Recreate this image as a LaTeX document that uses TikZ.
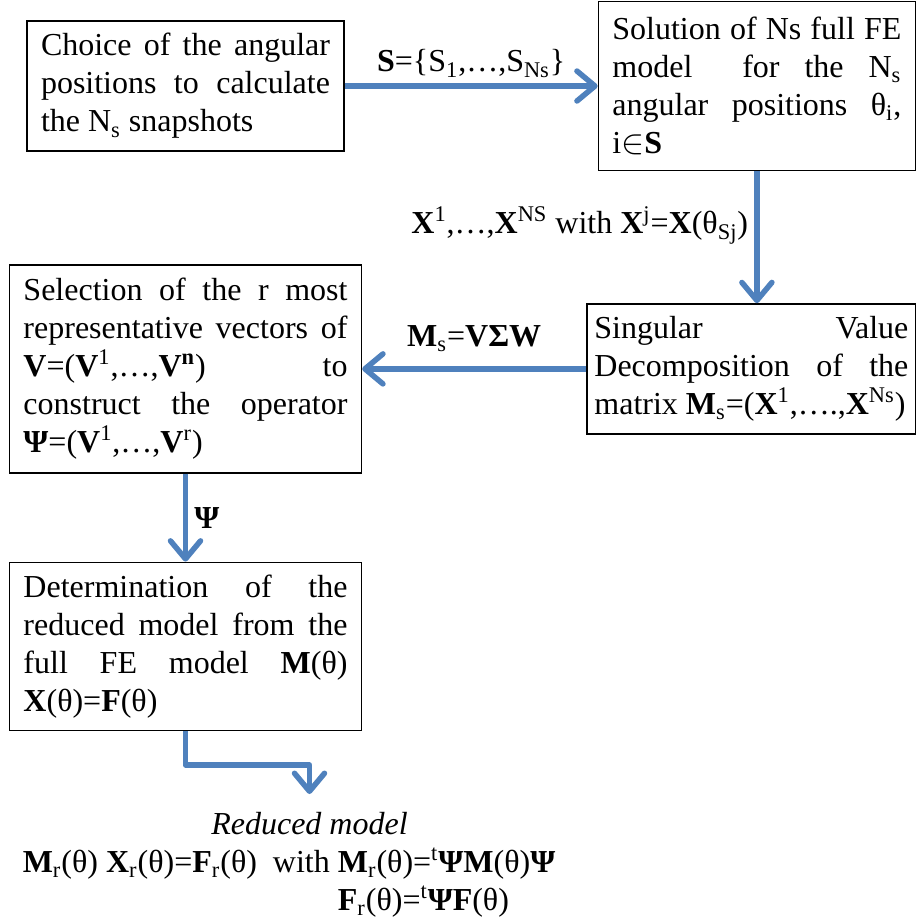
\documentclass[tikz,border=0pt]{standalone}
\usepackage{fontspec}
\setmainfont{Liberation Serif}
\usetikzlibrary{positioning, arrows.meta}
\definecolor{flowblue}{RGB}{79,129,189}
\hyphenpenalty=10000
\exhyphenpenalty=10000
\tolerance=10000
\tikzstyle{process} = [rectangle, draw=black, line width=0.7pt, inner xsep=7pt, inner ysep=3pt, align=justify]
\tikzstyle{arrow} = [draw=flowblue, line width=2.75pt, line join=round, -{Straight Barb[length=9pt, width=15pt, round]}]
\tikzstyle{tag} = [inner sep=3pt]

\begin{document}
\begin{tikzpicture}[font=\fontsize{16}{19}\selectfont]
  \useasboundingbox (0,0) rectangle (458pt,-458.5pt);
  \node (choice) [process, text width=144.5pt, minimum height=65pt] at (92.75pt,-43pt)
    {Choice of the angular\linebreak positions to calculate\linebreak the N\textsubscript{s} snapshots};
  \node (solution) [process, text width=144.5pt, minimum height=84.5pt, right=126.5pt of choice]
    {Solution of Ns full FE\linebreak model~~for the N\textsubscript{s}\linebreak angular positions θ\textsubscript{i},\linebreak i$\in$\textbf{S}};
  \node (svd) [process, text width=157pt, inner xsep=3.75pt, minimum height=65pt, below=66pt of solution, xshift=-2.75pt]
    {Singular Value\linebreak Decomposition of the\linebreak matrix \textbf{M}\textsubscript{s}=(\textbf{X}\textsuperscript{1},….,\textbf{X}\textsuperscript{Ns})};
  \node (selection) [process, text width=162pt, minimum height=104pt, left=112pt of svd]
    {Selection of the r most\linebreak representative vectors of\linebreak \textbf{V}=(\textbf{V}\textsuperscript{1},…,\textbf{V}\textsuperscript{\textbf{n}}) to\linebreak construct the operator\linebreak \textbf{Ψ}=(\textbf{V}\textsuperscript{1},…,\textbf{V}\textsuperscript{r})};
  \node (determ) [process, text width=162pt, minimum height=84pt, below=44pt of selection]
    {Determination of the\linebreak reduced model from the\linebreak full FE model \textbf{M}(θ)\linebreak \textbf{X}(θ)=\textbf{F}(θ)};
  \node (redtitle) [below=40.5pt of determ, xshift=62pt, inner sep=0pt] {\textit{Reduced model}};
  \node (redeq) [anchor=base, inner sep=0pt] at ([xshift=-10.25pt, yshift=-19pt]redtitle.base)
    {\begin{tabular}[t]{@{}l@{\ }l@{}}
      \textbf{M}\textsubscript{r}(θ) \textbf{X}\textsubscript{r}(θ)=\textbf{F}\textsubscript{r}(θ)\ \ with & \textbf{M}\textsubscript{r}(θ)=\textsuperscript{t}\textbf{ΨM}(θ)\textbf{Ψ} \\
      & \textbf{F}\textsubscript{r}(θ)=\textsuperscript{t}\textbf{ΨF}(θ)
    \end{tabular}};

  \draw [arrow] (choice) -- (solution)
    node [tag, midway, above] {\textbf{S}=\{S\textsubscript{1},…,S\textsubscript{Ns}\}};
  \draw [arrow] (solution.south) -- (solution.south |- svd.north)
    node [tag, midway, left, yshift=6pt] {\textbf{X}\textsuperscript{1},…,\textbf{X}\textsuperscript{NS} with \textbf{X}\textsuperscript{j}=\textbf{X}(θ\textsubscript{Sj})};
  \draw [arrow] (svd) -- (selection)
    node [tag, midway, above, yshift=4pt] {\textbf{M}\textsubscript{s}=\textbf{VΣW}};
  \draw [arrow] (selection) -- (determ)
    node [tag, midway, right] {\textbf{Ψ}};
  \draw [arrow] (determ.south) -- ++(0,-17pt) -| ([yshift=9pt]redtitle.north);
\end{tikzpicture}
\end{document}
